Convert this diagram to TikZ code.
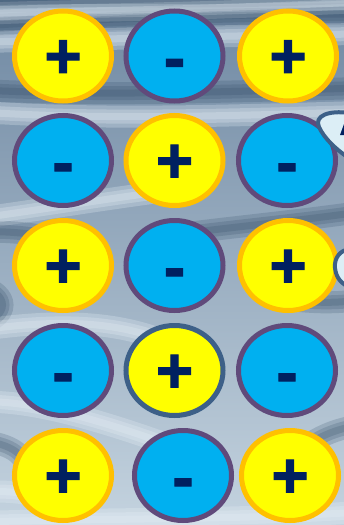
\documentclass[tikz,border=0pt]{standalone}
\usepackage{fontspec}
\usetikzlibrary{shapes.geometric}
\newfontfamily\sgnfont{Liberation Sans}[BoldFeatures={FakeBold=1.5}]
\definecolor{ylw}{HTML}{FFFF00}
\definecolor{org}{HTML}{FFC000}
\definecolor{cyn}{HTML}{00B0F0}
\definecolor{prp}{HTML}{604A7B}
\definecolor{nvy}{HTML}{002060}
\definecolor{slate}{HTML}{3D6088}
\definecolor{pale}{HTML}{DCEEF6}
\definecolor{bgtop}{HTML}{6F88A2}
\definecolor{bgmid}{HTML}{A0B4C7}
\definecolor{bgbot}{HTML}{C4D3DF}
\definecolor{bgdark}{HTML}{2E4862}
\definecolor{bglight}{HTML}{E6EFF6}
\tikzset{
  chg/.style={ellipse, minimum width=97pt, minimum height=90pt, line width=5pt,
    text=nvy, inner sep=0pt, text depth=0pt,
    font=\sgnfont\bfseries\fontsize{64}{64}\selectfont},
  poschg/.style={chg, draw=org, fill=ylw, text height=44pt},
  negchg/.style={chg, draw=prp, fill=cyn, text height=47pt},
  dband/.style={line width=#1, draw=bgdark, draw opacity=.2},
  lband/.style={line width=#1, draw=bglight, draw opacity=.28},
  edgeshape/.style={fill=pale, draw=slate, line width=4pt},
}
\begin{document}
\begin{tikzpicture}[x=1pt,y=-1pt]
\useasboundingbox (0,0) rectangle (344,525);
\begin{scope}
\clip (0,0) rectangle (344,525);
% background
\shade[top color=bgtop, middle color=bgmid, bottom color=bgbot] (0,0) rectangle (344,525);
\foreach \w in {22,14,7}{
  % top streaks
  \draw[dband=\w pt] (-20,2) .. controls (100,-2) and (220,4) .. (360,-4);
  \draw[dband=\w pt] (-20,26) .. controls (40,22) and (200,14) .. (360,14);
  \draw[lband=\w pt] (-20,14) .. controls (60,10) and (150,12) .. (360,2);
  \draw[lband=\w pt] (-20,42) .. controls (80,40) and (200,36) .. (360,34);
  % between rows 1 and 2
  \draw[dband=\w pt] (-20,90) .. controls (100,96) and (220,92) .. (360,88);
  \draw[lband=\w pt] (-20,112) .. controls (100,120) and (220,116) .. (360,112);
  % between rows 2 and 3
  \draw[lband=\w pt] (-20,218) .. controls (40,210) and (110,198) .. (175,190);
  \draw[dband=\w pt] (150,238) .. controls (220,228) and (290,222) .. (360,212);
  \draw[dband=\w pt] (-20,232) .. controls (20,230) and (60,238) .. (85,245);
  % between rows 3 and 4
  \draw[dband=\w pt] (-20,285) .. controls (10,295) and (10,315) .. (-20,325);
  \draw[lband=\w pt] (-20,330) .. controls (40,322) and (110,316) .. (174,345);
  \draw[dband=\w pt] (288,300) .. controls (310,302) and (330,304) .. (360,300);
  % lower part
  \draw[lband=\w pt] (-20,402) .. controls (20,400) and (80,412) .. (183,450);
  \draw[lband=\w pt] (-20,492) .. controls (10,490) and (30,494) .. (50,498);
  \draw[dband=\w pt] (-20,440) .. controls (10,445) and (20,450) .. (30,470);
  \draw[dband=\w pt] (290,460) .. controls (310,440) and (330,430) .. (360,425);
  \draw[lband=\w pt] (-20,522) .. controls (120,518) and (240,520) .. (360,512);
}
\end{scope}
% charges
\node[poschg] (a1) at (63,56) {+};
\node[negchg] (a2) at (174.5,56) {-};
\node[poschg] (a3) at (288,56) {+};
\node[negchg] (b1) at (63,160.5) {-};
\node[poschg] (b2) at (174.5,160.5) {+};
\node[negchg] (b3) at (287,160.5) {-};
\node[poschg] (c1) at (63,265.5) {+};
\node[negchg] (c2) at (174.5,265.5) {-};
\node[poschg] (c3) at (288,265.5) {+};
\node[negchg] (d1) at (63,370.5) {-};
\node[poschg, draw=slate] (d2) at (174.5,370.5) {+};
\node[negchg] (d3) at (287,370.5) {-};
\node[poschg] (e1) at (63,475.5) {+};
\node[negchg] (e2) at (183,475.5) {-};
\node[poschg] (e3) at (290,475.5) {+};
% partial shapes at right edge
\begin{scope}
\clip (0,0) rectangle (344,525);
\draw[edgeshape] (350,113) .. controls (328,110) and (314,116) .. (319,127)
  .. controls (324,138) and (336,150) .. (352,160) -- cycle;
\fill[nvy] (340,135) -- (344,124) -- (346,135) -- cycle;
\draw[edgeshape] (350,249) .. controls (340,250) and (334,258) .. (335,268)
  .. controls (336,278) and (342,285) .. (352,288) -- cycle;
\end{scope}
\end{tikzpicture}
\end{document}
